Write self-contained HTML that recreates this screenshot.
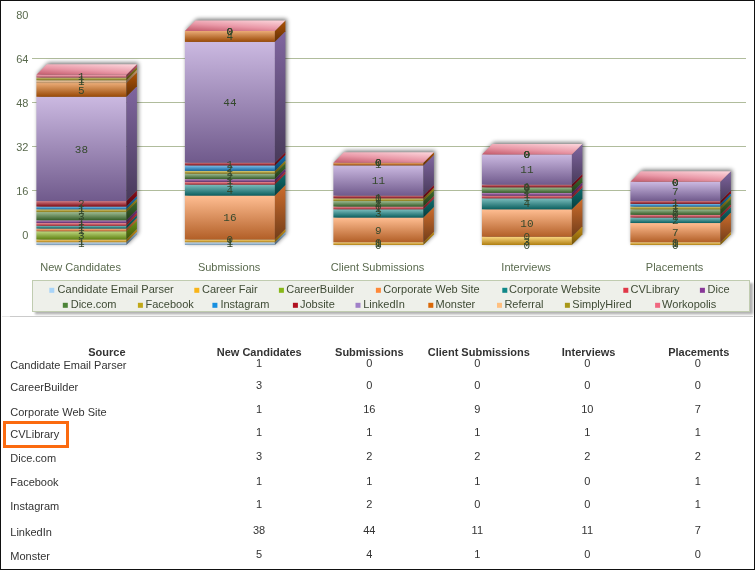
<!DOCTYPE html>
<html><head><meta charset="utf-8"><style>
html,body{margin:0;padding:0;background:#fff;}
#wrap{will-change:transform;position:relative;width:755px;height:570px;overflow:hidden;background:#fff;}
#frame{position:absolute;left:0;top:0;width:753px;height:568px;border:1px solid #111;pointer-events:none;}
svg text{font-family:"Liberation Sans",sans-serif;}
.ax{font-size:11px;fill:#5a6a4e;}
.lg{font-size:11px;fill:#3e4a34;}
.lb{font-family:"Liberation Mono",monospace !important;font-size:11px;fill:#34482c;}
.axm{font-family:"Liberation Mono",monospace !important;font-size:11px;fill:#4e5e44;}
.th,.td{position:absolute;font-family:"Liberation Sans",sans-serif;font-size:11px;line-height:13px;white-space:nowrap;color:#333;}
.th{font-weight:bold;}
</style></head><body><div id="wrap">
<svg width="755" height="320" viewBox="0 0 755 320" style="position:absolute;left:0;top:0">
<defs>
<filter id="blur" x="-20%" y="-20%" width="140%" height="140%"><feGaussianBlur stdDeviation="2"/></filter>
<filter id="blur2" x="-5%" y="-50%" width="110%" height="200%"><feGaussianBlur stdDeviation="1"/></filter>
<linearGradient id="f0" x1="0" y1="0" x2="0" y2="1"><stop offset="0" stop-color="#cfe7fb"/><stop offset="1" stop-color="#7694ae"/></linearGradient><linearGradient id="s0" x1="0" y1="0" x2="0" y2="1"><stop offset="0" stop-color="#86aac6"/><stop offset="1" stop-color="#4c5f70"/></linearGradient><linearGradient id="t0" x1="0.2" y1="1" x2="0.8" y2="0"><stop offset="0" stop-color="#92b3ce"/><stop offset="0.45" stop-color="#bed9ee"/><stop offset="1" stop-color="#e3f1fd"/></linearGradient><linearGradient id="f1" x1="0" y1="0" x2="0" y2="1"><stop offset="0" stop-color="#fbd680"/><stop offset="1" stop-color="#ae7e11"/></linearGradient><linearGradient id="s1" x1="0" y1="0" x2="0" y2="1"><stop offset="0" stop-color="#c69013"/><stop offset="1" stop-color="#70510b"/></linearGradient><linearGradient id="t1" x1="0.2" y1="1" x2="0.8" y2="0"><stop offset="0" stop-color="#ce9b26"/><stop offset="0.45" stop-color="#eec569"/><stop offset="1" stop-color="#fde7b5"/></linearGradient><linearGradient id="f2" x1="0" y1="0" x2="0" y2="1"><stop offset="0" stop-color="#bed880"/><stop offset="1" stop-color="#5f8111"/></linearGradient><linearGradient id="s2" x1="0" y1="0" x2="0" y2="1"><stop offset="0" stop-color="#6d9313"/><stop offset="1" stop-color="#3d530b"/></linearGradient><linearGradient id="t2" x1="0.2" y1="1" x2="0.8" y2="0"><stop offset="0" stop-color="#7a9e26"/><stop offset="0.45" stop-color="#acc869"/><stop offset="1" stop-color="#d9e8b5"/></linearGradient><linearGradient id="f3" x1="0" y1="0" x2="0" y2="1"><stop offset="0" stop-color="#ffbe92"/><stop offset="1" stop-color="#b25f27"/></linearGradient><linearGradient id="s3" x1="0" y1="0" x2="0" y2="1"><stop offset="0" stop-color="#cc6d2d"/><stop offset="1" stop-color="#733d19"/></linearGradient><linearGradient id="t3" x1="0.2" y1="1" x2="0.8" y2="0"><stop offset="0" stop-color="#d37a3e"/><stop offset="0.45" stop-color="#f2ac7c"/><stop offset="1" stop-color="#ffd9bf"/></linearGradient><linearGradient id="f4" x1="0" y1="0" x2="0" y2="1"><stop offset="0" stop-color="#7cbebe"/><stop offset="1" stop-color="#0b5f5f"/></linearGradient><linearGradient id="s4" x1="0" y1="0" x2="0" y2="1"><stop offset="0" stop-color="#0d6d6d"/><stop offset="1" stop-color="#073d3d"/></linearGradient><linearGradient id="t4" x1="0.2" y1="1" x2="0.8" y2="0"><stop offset="0" stop-color="#207a7a"/><stop offset="0.45" stop-color="#64acac"/><stop offset="1" stop-color="#b3d9d9"/></linearGradient><linearGradient id="f5" x1="0" y1="0" x2="0" y2="1"><stop offset="0" stop-color="#ee929a"/><stop offset="1" stop-color="#9d2732"/></linearGradient><linearGradient id="s5" x1="0" y1="0" x2="0" y2="1"><stop offset="0" stop-color="#b32d3a"/><stop offset="1" stop-color="#651920"/></linearGradient><linearGradient id="t5" x1="0.2" y1="1" x2="0.8" y2="0"><stop offset="0" stop-color="#bc3e4a"/><stop offset="0.45" stop-color="#e07c85"/><stop offset="1" stop-color="#f5bfc4"/></linearGradient><linearGradient id="f6" x1="0" y1="0" x2="0" y2="1"><stop offset="0" stop-color="#be92c6"/><stop offset="1" stop-color="#5f276a"/></linearGradient><linearGradient id="s6" x1="0" y1="0" x2="0" y2="1"><stop offset="0" stop-color="#6d2d7a"/><stop offset="1" stop-color="#3d1944"/></linearGradient><linearGradient id="t6" x1="0.2" y1="1" x2="0.8" y2="0"><stop offset="0" stop-color="#7a3e86"/><stop offset="0.45" stop-color="#ac7cb5"/><stop offset="1" stop-color="#d9bfde"/></linearGradient><linearGradient id="f7" x1="0" y1="0" x2="0" y2="1"><stop offset="0" stop-color="#9dbb92"/><stop offset="1" stop-color="#355c27"/></linearGradient><linearGradient id="s7" x1="0" y1="0" x2="0" y2="1"><stop offset="0" stop-color="#3d6a2d"/><stop offset="1" stop-color="#223b19"/></linearGradient><linearGradient id="t7" x1="0.2" y1="1" x2="0.8" y2="0"><stop offset="0" stop-color="#4d773e"/><stop offset="0.45" stop-color="#88a97c"/><stop offset="1" stop-color="#c6d8bf"/></linearGradient><linearGradient id="f8" x1="0" y1="0" x2="0" y2="1"><stop offset="0" stop-color="#dccf80"/><stop offset="1" stop-color="#867611"/></linearGradient><linearGradient id="s8" x1="0" y1="0" x2="0" y2="1"><stop offset="0" stop-color="#9a8613"/><stop offset="1" stop-color="#564c0b"/></linearGradient><linearGradient id="t8" x1="0.2" y1="1" x2="0.8" y2="0"><stop offset="0" stop-color="#a49226"/><stop offset="0.45" stop-color="#cdbe69"/><stop offset="1" stop-color="#ebe3b5"/></linearGradient><linearGradient id="f9" x1="0" y1="0" x2="0" y2="1"><stop offset="0" stop-color="#80c2ee"/><stop offset="1" stop-color="#11659d"/></linearGradient><linearGradient id="s9" x1="0" y1="0" x2="0" y2="1"><stop offset="0" stop-color="#1373b3"/><stop offset="1" stop-color="#0b4165"/></linearGradient><linearGradient id="t9" x1="0.2" y1="1" x2="0.8" y2="0"><stop offset="0" stop-color="#2680bc"/><stop offset="0.45" stop-color="#69b0e0"/><stop offset="1" stop-color="#b5dbf5"/></linearGradient><linearGradient id="f10" x1="0" y1="0" x2="0" y2="1"><stop offset="0" stop-color="#d47c84"/><stop offset="1" stop-color="#7b0b16"/></linearGradient><linearGradient id="s10" x1="0" y1="0" x2="0" y2="1"><stop offset="0" stop-color="#8d0d1a"/><stop offset="1" stop-color="#4f070e"/></linearGradient><linearGradient id="t10" x1="0.2" y1="1" x2="0.8" y2="0"><stop offset="0" stop-color="#98202c"/><stop offset="0.45" stop-color="#c4646e"/><stop offset="1" stop-color="#e6b3b8"/></linearGradient><linearGradient id="f11" x1="0" y1="0" x2="0" y2="1"><stop offset="0" stop-color="#cbb9e1"/><stop offset="1" stop-color="#705a8c"/></linearGradient><linearGradient id="s11" x1="0" y1="0" x2="0" y2="1"><stop offset="0" stop-color="#8066a0"/><stop offset="1" stop-color="#483a5a"/></linearGradient><linearGradient id="t11" x1="0.2" y1="1" x2="0.8" y2="0"><stop offset="0" stop-color="#8c74aa"/><stop offset="0.45" stop-color="#b9a7d1"/><stop offset="1" stop-color="#e1d6ed"/></linearGradient><linearGradient id="f12" x1="0" y1="0" x2="0" y2="1"><stop offset="0" stop-color="#ebac77"/><stop offset="1" stop-color="#994906"/></linearGradient><linearGradient id="s12" x1="0" y1="0" x2="0" y2="1"><stop offset="0" stop-color="#ae5306"/><stop offset="1" stop-color="#622f04"/></linearGradient><linearGradient id="t12" x1="0.2" y1="1" x2="0.8" y2="0"><stop offset="0" stop-color="#b8631a"/><stop offset="0.45" stop-color="#dc985f"/><stop offset="1" stop-color="#f3cfb0"/></linearGradient><linearGradient id="f13" x1="0" y1="0" x2="0" y2="1"><stop offset="0" stop-color="#ffdcb9"/><stop offset="1" stop-color="#b2865a"/></linearGradient><linearGradient id="s13" x1="0" y1="0" x2="0" y2="1"><stop offset="0" stop-color="#cc9a66"/><stop offset="1" stop-color="#73563a"/></linearGradient><linearGradient id="t13" x1="0.2" y1="1" x2="0.8" y2="0"><stop offset="0" stop-color="#d3a474"/><stop offset="0.45" stop-color="#f2cda7"/><stop offset="1" stop-color="#ffebd6"/></linearGradient><linearGradient id="f14" x1="0" y1="0" x2="0" y2="1"><stop offset="0" stop-color="#cfc680"/><stop offset="1" stop-color="#766a11"/></linearGradient><linearGradient id="s14" x1="0" y1="0" x2="0" y2="1"><stop offset="0" stop-color="#867a13"/><stop offset="1" stop-color="#4c440b"/></linearGradient><linearGradient id="t14" x1="0.2" y1="1" x2="0.8" y2="0"><stop offset="0" stop-color="#928626"/><stop offset="0.45" stop-color="#beb569"/><stop offset="1" stop-color="#e3deb5"/></linearGradient><linearGradient id="f15" x1="0" y1="0" x2="0" y2="1"><stop offset="0" stop-color="#f7acb9"/><stop offset="1" stop-color="#a8495a"/></linearGradient><linearGradient id="s15" x1="0" y1="0" x2="0" y2="1"><stop offset="0" stop-color="#c05366"/><stop offset="1" stop-color="#6c2f3a"/></linearGradient><linearGradient id="t15" x1="0.2" y1="1" x2="0.8" y2="0"><stop offset="0" stop-color="#c86374"/><stop offset="0.45" stop-color="#e998a7"/><stop offset="1" stop-color="#facfd6"/></linearGradient>
</defs>
<line x1="32" y1="190.5" x2="746" y2="190.5" stroke="#b0bc9c" stroke-width="1"/><line x1="32" y1="146.5" x2="746" y2="146.5" stroke="#b0bc9c" stroke-width="1"/><line x1="32" y1="102.5" x2="746" y2="102.5" stroke="#b0bc9c" stroke-width="1"/><line x1="32" y1="58.5" x2="746" y2="58.5" stroke="#b0bc9c" stroke-width="1"/><text x="28.4" y="239.0" text-anchor="end" class="ax">0</text><text x="28.4" y="195.0" text-anchor="end" class="ax">16</text><text x="28.4" y="151.0" text-anchor="end" class="ax">32</text><text x="28.4" y="107.0" text-anchor="end" class="ax">48</text><text x="28.4" y="63.0" text-anchor="end" class="ax">64</text><text x="28.4" y="19.0" text-anchor="end" class="ax">80</text><path d="M36.4,245.0 L36.4,74.81 L46.9,64.31 L136.9,64.31 L136.9,234.5 L126.4,245.0 Z" fill="#000" opacity="0.55" filter="url(#blur)" transform="translate(1.5,-1.5)"/><rect x="36.4" y="242.25" width="90" height="2.75" fill="url(#f0)"/><path d="M126.4,245.00 L126.4,242.25 L136.9,231.75 L136.9,234.50 Z" fill="url(#s0)"/><rect x="36.4" y="239.51" width="90" height="2.75" fill="url(#f1)"/><path d="M126.4,242.25 L126.4,239.51 L136.9,229.01 L136.9,231.75 Z" fill="url(#s1)"/><rect x="36.4" y="231.28" width="90" height="8.23" fill="url(#f2)"/><path d="M126.4,239.51 L126.4,231.28 L136.9,220.78 L136.9,229.01 Z" fill="url(#s2)"/><rect x="36.4" y="228.53" width="90" height="2.75" fill="url(#f3)"/><path d="M126.4,231.28 L126.4,228.53 L136.9,218.03 L136.9,220.78 Z" fill="url(#s3)"/><rect x="36.4" y="225.78" width="90" height="2.75" fill="url(#f4)"/><path d="M126.4,228.53 L126.4,225.78 L136.9,215.28 L136.9,218.03 Z" fill="url(#s4)"/><rect x="36.4" y="223.04" width="90" height="2.75" fill="url(#f5)"/><path d="M126.4,225.78 L126.4,223.04 L136.9,212.54 L136.9,215.28 Z" fill="url(#s5)"/><rect x="36.4" y="220.29" width="90" height="2.75" fill="url(#f6)"/><path d="M126.4,223.04 L126.4,220.29 L136.9,209.79 L136.9,212.54 Z" fill="url(#s6)"/><rect x="36.4" y="212.06" width="90" height="8.23" fill="url(#f7)"/><path d="M126.4,220.29 L126.4,212.06 L136.9,201.56 L136.9,209.79 Z" fill="url(#s7)"/><rect x="36.4" y="209.31" width="90" height="2.75" fill="url(#f8)"/><path d="M126.4,212.06 L126.4,209.31 L136.9,198.81 L136.9,201.56 Z" fill="url(#s8)"/><rect x="36.4" y="206.57" width="90" height="2.75" fill="url(#f9)"/><path d="M126.4,209.31 L126.4,206.57 L136.9,196.07 L136.9,198.81 Z" fill="url(#s9)"/><rect x="36.4" y="201.08" width="90" height="5.49" fill="url(#f10)"/><path d="M126.4,206.57 L126.4,201.08 L136.9,190.58 L136.9,196.07 Z" fill="url(#s10)"/><rect x="36.4" y="96.77" width="90" height="104.31" fill="url(#f11)"/><path d="M126.4,201.08 L126.4,96.77 L136.9,86.27 L136.9,190.58 Z" fill="url(#s11)"/><rect x="36.4" y="83.04" width="90" height="13.72" fill="url(#f12)"/><path d="M126.4,96.77 L126.4,83.04 L136.9,72.54 L136.9,86.27 Z" fill="url(#s12)"/><rect x="36.4" y="80.30" width="90" height="2.75" fill="url(#f13)"/><path d="M126.4,83.04 L126.4,80.30 L136.9,69.80 L136.9,72.54 Z" fill="url(#s13)"/><rect x="36.4" y="77.56" width="90" height="2.74" fill="url(#f14)"/><path d="M126.4,80.30 L126.4,77.56 L136.9,67.06 L136.9,69.80 Z" fill="url(#s14)"/><rect x="36.4" y="74.81" width="90" height="2.75" fill="url(#f15)"/><path d="M126.4,77.56 L126.4,74.81 L136.9,64.31 L136.9,67.06 Z" fill="url(#s15)"/><path d="M36.4,74.81 L46.9,64.31 L136.9,64.31 L126.4,74.81 Z" fill="url(#t15)"/><text x="80.6" y="271.0" text-anchor="middle" class="ax">New Candidates</text><path d="M184.9,245.0 L184.9,30.889999999999986 L195.4,20.389999999999986 L285.4,20.389999999999986 L285.4,234.5 L274.9,245.0 Z" fill="#000" opacity="0.55" filter="url(#blur)" transform="translate(1.5,-1.5)"/><rect x="184.9" y="242.25" width="90" height="2.75" fill="url(#f0)"/><path d="M274.9,245.00 L274.9,242.25 L285.4,231.75 L285.4,234.50 Z" fill="url(#s0)"/><rect x="184.9" y="239.51" width="90" height="2.75" fill="url(#f1)"/><path d="M274.9,242.25 L274.9,239.51 L285.4,229.01 L285.4,231.75 Z" fill="url(#s1)"/><rect x="184.9" y="195.59" width="90" height="43.92" fill="url(#f3)"/><path d="M274.9,239.51 L274.9,195.59 L285.4,185.09 L285.4,229.01 Z" fill="url(#s3)"/><rect x="184.9" y="184.61" width="90" height="10.98" fill="url(#f4)"/><path d="M274.9,195.59 L274.9,184.61 L285.4,174.11 L285.4,185.09 Z" fill="url(#s4)"/><rect x="184.9" y="181.87" width="90" height="2.75" fill="url(#f5)"/><path d="M274.9,184.61 L274.9,181.87 L285.4,171.37 L285.4,174.11 Z" fill="url(#s5)"/><rect x="184.9" y="179.12" width="90" height="2.75" fill="url(#f6)"/><path d="M274.9,181.87 L274.9,179.12 L285.4,168.62 L285.4,171.37 Z" fill="url(#s6)"/><rect x="184.9" y="173.63" width="90" height="5.49" fill="url(#f7)"/><path d="M274.9,179.12 L274.9,173.63 L285.4,163.13 L285.4,168.62 Z" fill="url(#s7)"/><rect x="184.9" y="170.88" width="90" height="2.75" fill="url(#f8)"/><path d="M274.9,173.63 L274.9,170.88 L285.4,160.38 L285.4,163.13 Z" fill="url(#s8)"/><rect x="184.9" y="165.39" width="90" height="5.49" fill="url(#f9)"/><path d="M274.9,170.88 L274.9,165.39 L285.4,154.89 L285.4,160.38 Z" fill="url(#s9)"/><rect x="184.9" y="162.65" width="90" height="2.75" fill="url(#f10)"/><path d="M274.9,165.39 L274.9,162.65 L285.4,152.15 L285.4,154.89 Z" fill="url(#s10)"/><rect x="184.9" y="41.87" width="90" height="120.78" fill="url(#f11)"/><path d="M274.9,162.65 L274.9,41.87 L285.4,31.37 L285.4,152.15 Z" fill="url(#s11)"/><rect x="184.9" y="30.89" width="90" height="10.98" fill="url(#f12)"/><path d="M274.9,41.87 L274.9,30.89 L285.4,20.39 L285.4,31.37 Z" fill="url(#s12)"/><path d="M184.9,30.89 L195.4,20.39 L285.4,20.39 L274.9,30.89 Z" fill="url(#t15)"/><text x="229.1" y="271.0" text-anchor="middle" class="ax">Submissions</text><path d="M333.4,245.0 L333.4,162.64999999999998 L343.9,152.14999999999998 L433.9,152.14999999999998 L433.9,234.5 L423.4,245.0 Z" fill="#000" opacity="0.55" filter="url(#blur)" transform="translate(1.5,-1.5)"/><rect x="333.4" y="242.25" width="90" height="2.75" fill="url(#f1)"/><path d="M423.4,245.00 L423.4,242.25 L433.9,231.75 L433.9,234.50 Z" fill="url(#s1)"/><rect x="333.4" y="217.55" width="90" height="24.70" fill="url(#f3)"/><path d="M423.4,242.25 L423.4,217.55 L433.9,207.05 L433.9,231.75 Z" fill="url(#s3)"/><rect x="333.4" y="209.31" width="90" height="8.24" fill="url(#f4)"/><path d="M423.4,217.55 L423.4,209.31 L433.9,198.81 L433.9,207.05 Z" fill="url(#s4)"/><rect x="333.4" y="206.57" width="90" height="2.75" fill="url(#f5)"/><path d="M423.4,209.31 L423.4,206.57 L433.9,196.07 L433.9,198.81 Z" fill="url(#s5)"/><rect x="333.4" y="201.08" width="90" height="5.49" fill="url(#f7)"/><path d="M423.4,206.57 L423.4,201.08 L433.9,190.58 L433.9,196.07 Z" fill="url(#s7)"/><rect x="333.4" y="198.34" width="90" height="2.74" fill="url(#f8)"/><path d="M423.4,201.08 L423.4,198.34 L433.9,187.84 L433.9,190.58 Z" fill="url(#s8)"/><rect x="333.4" y="195.59" width="90" height="2.75" fill="url(#f10)"/><path d="M423.4,198.34 L423.4,195.59 L433.9,185.09 L433.9,187.84 Z" fill="url(#s10)"/><rect x="333.4" y="165.39" width="90" height="30.20" fill="url(#f11)"/><path d="M423.4,195.59 L423.4,165.39 L433.9,154.89 L433.9,185.09 Z" fill="url(#s11)"/><rect x="333.4" y="162.65" width="90" height="2.75" fill="url(#f12)"/><path d="M423.4,165.39 L423.4,162.65 L433.9,152.15 L433.9,154.89 Z" fill="url(#s12)"/><path d="M333.4,162.65 L343.9,152.15 L433.9,152.15 L423.4,162.65 Z" fill="url(#t15)"/><text x="377.6" y="271.0" text-anchor="middle" class="ax">Client Submissions</text><path d="M481.9,245.0 L481.9,154.415 L492.4,143.915 L582.4,143.915 L582.4,234.5 L571.9,245.0 Z" fill="#000" opacity="0.55" filter="url(#blur)" transform="translate(1.5,-1.5)"/><rect x="481.9" y="236.76" width="90" height="8.24" fill="url(#f1)"/><path d="M571.9,245.00 L571.9,236.76 L582.4,226.26 L582.4,234.50 Z" fill="url(#s1)"/><rect x="481.9" y="209.31" width="90" height="27.45" fill="url(#f3)"/><path d="M571.9,236.76 L571.9,209.31 L582.4,198.81 L582.4,226.26 Z" fill="url(#s3)"/><rect x="481.9" y="198.34" width="90" height="10.98" fill="url(#f4)"/><path d="M571.9,209.31 L571.9,198.34 L582.4,187.84 L582.4,198.81 Z" fill="url(#s4)"/><rect x="481.9" y="195.59" width="90" height="2.75" fill="url(#f5)"/><path d="M571.9,198.34 L571.9,195.59 L582.4,185.09 L582.4,187.84 Z" fill="url(#s5)"/><rect x="481.9" y="192.84" width="90" height="2.75" fill="url(#f6)"/><path d="M571.9,195.59 L571.9,192.84 L582.4,182.34 L582.4,185.09 Z" fill="url(#s6)"/><rect x="481.9" y="187.35" width="90" height="5.49" fill="url(#f7)"/><path d="M571.9,192.84 L571.9,187.35 L582.4,176.85 L582.4,182.34 Z" fill="url(#s7)"/><rect x="481.9" y="184.61" width="90" height="2.74" fill="url(#f10)"/><path d="M571.9,187.35 L571.9,184.61 L582.4,174.11 L582.4,176.85 Z" fill="url(#s10)"/><rect x="481.9" y="154.41" width="90" height="30.20" fill="url(#f11)"/><path d="M571.9,184.61 L571.9,154.41 L582.4,143.91 L582.4,174.11 Z" fill="url(#s11)"/><path d="M481.9,154.41 L492.4,143.91 L582.4,143.91 L571.9,154.41 Z" fill="url(#t15)"/><text x="526.1" y="271.0" text-anchor="middle" class="ax">Interviews</text><path d="M630.4,245.0 L630.4,181.865 L640.9,171.365 L730.9,171.365 L730.9,234.5 L720.4,245.0 Z" fill="#000" opacity="0.55" filter="url(#blur)" transform="translate(1.5,-1.5)"/><rect x="630.4" y="242.25" width="90" height="2.75" fill="url(#f1)"/><path d="M720.4,245.00 L720.4,242.25 L730.9,231.75 L730.9,234.50 Z" fill="url(#s1)"/><rect x="630.4" y="223.04" width="90" height="19.22" fill="url(#f3)"/><path d="M720.4,242.25 L720.4,223.04 L730.9,212.54 L730.9,231.75 Z" fill="url(#s3)"/><rect x="630.4" y="217.55" width="90" height="5.49" fill="url(#f4)"/><path d="M720.4,223.04 L720.4,217.55 L730.9,207.05 L730.9,212.54 Z" fill="url(#s4)"/><rect x="630.4" y="214.81" width="90" height="2.75" fill="url(#f5)"/><path d="M720.4,217.55 L720.4,214.81 L730.9,204.31 L730.9,207.05 Z" fill="url(#s5)"/><rect x="630.4" y="209.31" width="90" height="5.49" fill="url(#f7)"/><path d="M720.4,214.81 L720.4,209.31 L730.9,198.81 L730.9,204.31 Z" fill="url(#s7)"/><rect x="630.4" y="206.57" width="90" height="2.75" fill="url(#f8)"/><path d="M720.4,209.31 L720.4,206.57 L730.9,196.07 L730.9,198.81 Z" fill="url(#s8)"/><rect x="630.4" y="203.82" width="90" height="2.75" fill="url(#f9)"/><path d="M720.4,206.57 L720.4,203.82 L730.9,193.32 L730.9,196.07 Z" fill="url(#s9)"/><rect x="630.4" y="201.08" width="90" height="2.75" fill="url(#f10)"/><path d="M720.4,203.82 L720.4,201.08 L730.9,190.58 L730.9,193.32 Z" fill="url(#s10)"/><rect x="630.4" y="181.87" width="90" height="19.21" fill="url(#f11)"/><path d="M720.4,201.08 L720.4,181.87 L730.9,171.37 L730.9,190.58 Z" fill="url(#s11)"/><path d="M630.4,181.87 L640.9,171.37 L730.9,171.37 L720.4,181.87 Z" fill="url(#t15)"/><text x="674.6" y="271.0" text-anchor="middle" class="ax">Placements</text><text x="81.4" y="247.2" text-anchor="middle" class="lb">1</text><text x="81.4" y="244.5" text-anchor="middle" class="lb">1</text><text x="81.4" y="239.0" text-anchor="middle" class="lb">3</text><text x="81.4" y="233.5" text-anchor="middle" class="lb">1</text><text x="81.4" y="230.8" text-anchor="middle" class="lb">1</text><text x="81.4" y="228.0" text-anchor="middle" class="lb">1</text><text x="81.4" y="225.3" text-anchor="middle" class="lb">1</text><text x="81.4" y="219.8" text-anchor="middle" class="lb">3</text><text x="81.4" y="214.3" text-anchor="middle" class="lb">1</text><text x="81.4" y="211.5" text-anchor="middle" class="lb">1</text><text x="81.4" y="207.4" text-anchor="middle" class="lb">2</text><text x="81.4" y="152.5" text-anchor="middle" class="lb">38</text><text x="81.4" y="93.5" text-anchor="middle" class="lb">5</text><text x="81.4" y="85.3" text-anchor="middle" class="lb">1</text><text x="81.4" y="82.5" text-anchor="middle" class="lb">1</text><text x="81.4" y="79.8" text-anchor="middle" class="lb">1</text><text x="229.9" y="247.2" text-anchor="middle" class="lb">1</text><text x="229.9" y="244.5" text-anchor="middle" class="lb">1</text><text x="229.9" y="243.1" text-anchor="middle" class="lb">0</text><text x="229.9" y="221.2" text-anchor="middle" class="lb">16</text><text x="229.9" y="193.7" text-anchor="middle" class="lb">4</text><text x="229.9" y="186.8" text-anchor="middle" class="lb">1</text><text x="229.9" y="184.1" text-anchor="middle" class="lb">1</text><text x="229.9" y="180.0" text-anchor="middle" class="lb">2</text><text x="229.9" y="175.9" text-anchor="middle" class="lb">1</text><text x="229.9" y="171.7" text-anchor="middle" class="lb">2</text><text x="229.9" y="167.6" text-anchor="middle" class="lb">1</text><text x="229.9" y="105.9" text-anchor="middle" class="lb">44</text><text x="229.9" y="40.0" text-anchor="middle" class="lb">4</text><text x="229.9" y="34.5" text-anchor="middle" class="lb">0</text><text x="229.9" y="34.5" text-anchor="middle" class="lb">0</text><text x="229.9" y="34.5" text-anchor="middle" class="lb">0</text><text x="378.4" y="248.6" text-anchor="middle" class="lb">0</text><text x="378.4" y="247.2" text-anchor="middle" class="lb">1</text><text x="378.4" y="245.9" text-anchor="middle" class="lb">0</text><text x="378.4" y="233.5" text-anchor="middle" class="lb">9</text><text x="378.4" y="217.0" text-anchor="middle" class="lb">3</text><text x="378.4" y="211.5" text-anchor="middle" class="lb">1</text><text x="378.4" y="210.2" text-anchor="middle" class="lb">0</text><text x="378.4" y="207.4" text-anchor="middle" class="lb">2</text><text x="378.4" y="203.3" text-anchor="middle" class="lb">1</text><text x="378.4" y="201.9" text-anchor="middle" class="lb">0</text><text x="378.4" y="200.6" text-anchor="middle" class="lb">1</text><text x="378.4" y="184.1" text-anchor="middle" class="lb">11</text><text x="378.4" y="167.6" text-anchor="middle" class="lb">1</text><text x="378.4" y="166.2" text-anchor="middle" class="lb">0</text><text x="378.4" y="166.2" text-anchor="middle" class="lb">0</text><text x="378.4" y="166.2" text-anchor="middle" class="lb">0</text><text x="526.9" y="248.6" text-anchor="middle" class="lb">0</text><text x="526.9" y="244.5" text-anchor="middle" class="lb">3</text><text x="526.9" y="240.4" text-anchor="middle" class="lb">0</text><text x="526.9" y="226.6" text-anchor="middle" class="lb">10</text><text x="526.9" y="207.4" text-anchor="middle" class="lb">4</text><text x="526.9" y="200.6" text-anchor="middle" class="lb">1</text><text x="526.9" y="197.8" text-anchor="middle" class="lb">1</text><text x="526.9" y="193.7" text-anchor="middle" class="lb">2</text><text x="526.9" y="191.0" text-anchor="middle" class="lb">0</text><text x="526.9" y="191.0" text-anchor="middle" class="lb">0</text><text x="526.9" y="189.6" text-anchor="middle" class="lb">1</text><text x="526.9" y="173.1" text-anchor="middle" class="lb">11</text><text x="526.9" y="158.0" text-anchor="middle" class="lb">0</text><text x="526.9" y="158.0" text-anchor="middle" class="lb">0</text><text x="526.9" y="158.0" text-anchor="middle" class="lb">0</text><text x="526.9" y="158.0" text-anchor="middle" class="lb">0</text><text x="675.4" y="248.6" text-anchor="middle" class="lb">0</text><text x="675.4" y="247.2" text-anchor="middle" class="lb">1</text><text x="675.4" y="245.9" text-anchor="middle" class="lb">0</text><text x="675.4" y="236.2" text-anchor="middle" class="lb">7</text><text x="675.4" y="223.9" text-anchor="middle" class="lb">2</text><text x="675.4" y="219.8" text-anchor="middle" class="lb">1</text><text x="675.4" y="218.4" text-anchor="middle" class="lb">0</text><text x="675.4" y="215.7" text-anchor="middle" class="lb">2</text><text x="675.4" y="211.5" text-anchor="middle" class="lb">1</text><text x="675.4" y="208.8" text-anchor="middle" class="lb">1</text><text x="675.4" y="206.1" text-anchor="middle" class="lb">1</text><text x="675.4" y="195.1" text-anchor="middle" class="lb">7</text><text x="675.4" y="185.5" text-anchor="middle" class="lb">0</text><text x="675.4" y="185.5" text-anchor="middle" class="lb">0</text><text x="675.4" y="185.5" text-anchor="middle" class="lb">0</text><text x="675.4" y="185.5" text-anchor="middle" class="lb">0</text>
<rect x="35" y="283" width="718" height="31.4" fill="#000" opacity="0.3" filter="url(#blur2)"/><rect x="32.5" y="280.5" width="717" height="31" fill="#eef0ea" stroke="#c0ccb0" stroke-width="1"/><rect x="49.3" y="287.8" width="5" height="5" fill="#a8d4f8"/><text x="57.6" y="292.8" class="lg">Candidate Email Parser</text><rect x="194.3" y="287.8" width="5" height="5" fill="#f8b418"/><text x="202.0" y="292.8" class="lg">Career Fair</text><rect x="278.9" y="287.8" width="5" height="5" fill="#88b818"/><text x="286.2" y="292.8" class="lg">CareerBuilder</text><rect x="375.9" y="287.8" width="5" height="5" fill="#ff8838"/><text x="383.3" y="292.8" class="lg">Corporate Web Site</text><rect x="502.3" y="287.8" width="5" height="5" fill="#108888"/><text x="509.1" y="292.8" class="lg">Corporate Website</text><rect x="623.3" y="287.8" width="5" height="5" fill="#e03848"/><text x="630.6" y="292.8" class="lg">CVLibrary</text><rect x="699.9" y="287.8" width="5" height="5" fill="#883898"/><text x="707.5" y="292.8" class="lg">Dice</text><rect x="62.8" y="302.8" width="5" height="5" fill="#4c8438"/><text x="70.7" y="307.8" class="lg">Dice.com</text><rect x="137.9" y="302.8" width="5" height="5" fill="#c0a818"/><text x="145.5" y="307.8" class="lg">Facebook</text><rect x="212.4" y="302.8" width="5" height="5" fill="#1890e0"/><text x="220.4" y="307.8" class="lg">Instagram</text><rect x="292.9" y="302.8" width="5" height="5" fill="#b01020"/><text x="299.9" y="307.8" class="lg">Jobsite</text><rect x="355.5" y="302.8" width="5" height="5" fill="#a080c8"/><text x="363.2" y="307.8" class="lg">LinkedIn</text><rect x="428.3" y="302.8" width="5" height="5" fill="#da6808"/><text x="435.5" y="307.8" class="lg">Monster</text><rect x="497.0" y="302.8" width="5" height="5" fill="#ffc080"/><text x="504.4" y="307.8" class="lg">Referral</text><rect x="564.9" y="302.8" width="5" height="5" fill="#a89818"/><text x="572.3" y="307.8" class="lg">SimplyHired</text><rect x="655.1" y="302.8" width="5" height="5" fill="#f06880"/><text x="662.1" y="307.8" class="lg">Workopolis</text>
<line x1="2" y1="316.5" x2="10" y2="316.5" stroke="#e6e6e6" stroke-width="1"/><line x1="10" y1="316.5" x2="753" y2="316.5" stroke="#cbcbcb" stroke-width="1"/>
</svg>
<div class="th" style="left:125.5px;top:346.1px;transform:translateX(-100%);">Source</div><div class="th" style="left:259.2px;top:346.1px;transform:translateX(-50%);">New Candidates</div><div class="th" style="left:369.3px;top:346.1px;transform:translateX(-50%);">Submissions</div><div class="th" style="left:478.8px;top:346.1px;transform:translateX(-50%);">Client Submissions</div><div class="th" style="left:588.6px;top:346.1px;transform:translateX(-50%);">Interviews</div><div class="th" style="left:698.8px;top:346.1px;transform:translateX(-50%);">Placements</div><div class="td" style="left:10.3px;top:358.8px;">Candidate Email Parser</div><div class="td" style="left:259.1px;top:356.9px;transform:translateX(-50%);">1</div><div class="td" style="left:369.3px;top:356.9px;transform:translateX(-50%);">0</div><div class="td" style="left:477.3px;top:356.9px;transform:translateX(-50%);">0</div><div class="td" style="left:587.3px;top:356.9px;transform:translateX(-50%);">0</div><div class="td" style="left:697.8px;top:356.9px;transform:translateX(-50%);">0</div><div class="td" style="left:10.3px;top:380.7px;">CareerBuilder</div><div class="td" style="left:259.1px;top:379.1px;transform:translateX(-50%);">3</div><div class="td" style="left:369.3px;top:379.1px;transform:translateX(-50%);">0</div><div class="td" style="left:477.3px;top:379.1px;transform:translateX(-50%);">0</div><div class="td" style="left:587.3px;top:379.1px;transform:translateX(-50%);">0</div><div class="td" style="left:697.8px;top:379.1px;transform:translateX(-50%);">0</div><div class="td" style="left:10.3px;top:405.5px;">Corporate Web Site</div><div class="td" style="left:259.1px;top:403.0px;transform:translateX(-50%);">1</div><div class="td" style="left:369.3px;top:403.0px;transform:translateX(-50%);">16</div><div class="td" style="left:477.3px;top:403.0px;transform:translateX(-50%);">9</div><div class="td" style="left:587.3px;top:403.0px;transform:translateX(-50%);">10</div><div class="td" style="left:697.8px;top:403.0px;transform:translateX(-50%);">7</div><div class="td" style="left:10.3px;top:428.2px;">CVLibrary</div><div class="td" style="left:259.1px;top:425.8px;transform:translateX(-50%);">1</div><div class="td" style="left:369.3px;top:425.8px;transform:translateX(-50%);">1</div><div class="td" style="left:477.3px;top:425.8px;transform:translateX(-50%);">1</div><div class="td" style="left:587.3px;top:425.8px;transform:translateX(-50%);">1</div><div class="td" style="left:697.8px;top:425.8px;transform:translateX(-50%);">1</div><div class="td" style="left:10.3px;top:452.0px;">Dice.com</div><div class="td" style="left:259.1px;top:450.0px;transform:translateX(-50%);">3</div><div class="td" style="left:369.3px;top:450.0px;transform:translateX(-50%);">2</div><div class="td" style="left:477.3px;top:450.0px;transform:translateX(-50%);">2</div><div class="td" style="left:587.3px;top:450.0px;transform:translateX(-50%);">2</div><div class="td" style="left:697.8px;top:450.0px;transform:translateX(-50%);">2</div><div class="td" style="left:10.3px;top:475.9px;">Facebook</div><div class="td" style="left:259.1px;top:474.5px;transform:translateX(-50%);">1</div><div class="td" style="left:369.3px;top:474.5px;transform:translateX(-50%);">1</div><div class="td" style="left:477.3px;top:474.5px;transform:translateX(-50%);">1</div><div class="td" style="left:587.3px;top:474.5px;transform:translateX(-50%);">0</div><div class="td" style="left:697.8px;top:474.5px;transform:translateX(-50%);">1</div><div class="td" style="left:10.3px;top:499.8px;">Instagram</div><div class="td" style="left:259.1px;top:498.2px;transform:translateX(-50%);">1</div><div class="td" style="left:369.3px;top:498.2px;transform:translateX(-50%);">2</div><div class="td" style="left:477.3px;top:498.2px;transform:translateX(-50%);">0</div><div class="td" style="left:587.3px;top:498.2px;transform:translateX(-50%);">0</div><div class="td" style="left:697.8px;top:498.2px;transform:translateX(-50%);">1</div><div class="td" style="left:10.3px;top:525.7px;">LinkedIn</div><div class="td" style="left:259.1px;top:523.7px;transform:translateX(-50%);">38</div><div class="td" style="left:369.3px;top:523.7px;transform:translateX(-50%);">44</div><div class="td" style="left:477.3px;top:523.7px;transform:translateX(-50%);">11</div><div class="td" style="left:587.3px;top:523.7px;transform:translateX(-50%);">11</div><div class="td" style="left:697.8px;top:523.7px;transform:translateX(-50%);">7</div><div class="td" style="left:10.3px;top:549.6px;">Monster</div><div class="td" style="left:259.1px;top:548.2px;transform:translateX(-50%);">5</div><div class="td" style="left:369.3px;top:548.2px;transform:translateX(-50%);">4</div><div class="td" style="left:477.3px;top:548.2px;transform:translateX(-50%);">1</div><div class="td" style="left:587.3px;top:548.2px;transform:translateX(-50%);">0</div><div class="td" style="left:697.8px;top:548.2px;transform:translateX(-50%);">0</div><div style="position:absolute;left:3px;top:421px;width:60px;height:21px;border:3px solid #fb6a0f"></div>
<div id="frame"></div>
</div></body></html>
